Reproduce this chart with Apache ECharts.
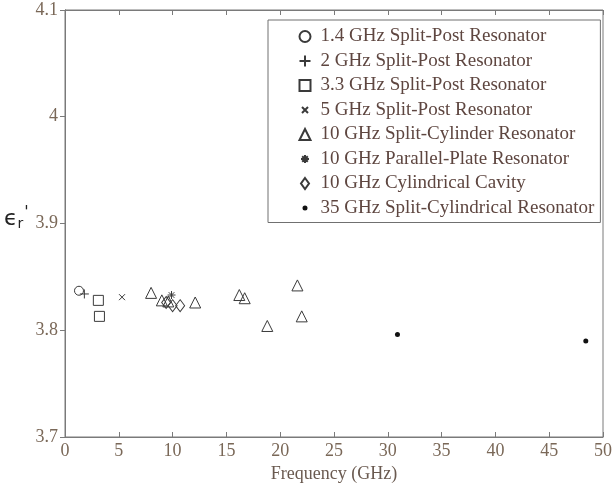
<!DOCTYPE html>
<html><head><meta charset="utf-8">
<script src="https://cdn.jsdelivr.net/npm/echarts@6/dist/echarts.min.js"></script>
<style>html,body{margin:0;padding:0;background:#fff}#c{width:615px;height:488px}</style>
</head><body><div id="c"></div>
<script>
const seriesNames = [
  '1.4 GHz Split-Post Resonator',
  '2 GHz Split-Post Resonator',
  '3.3 GHz Split-Post Resonator',
  '5 GHz Split-Post Resonator',
  '10 GHz Split-Cylinder Resonator',
  '10 GHz Parallel-Plate Resonator',
  '10 GHz Cylindrical Cavity',
  '35 GHz Split-Cylindrical Resonator'
];
const splitPost14 = [[1.3, 3.837]];
const splitPost2 = [[1.8, 3.834]];
const splitPost33 = [[3.1, 3.828], [3.2, 3.813]];
const splitPost5 = [[5.3, 3.831]];
const splitCylinder10 = [[8.0, 3.835], [9.0, 3.828], [9.6, 3.827], [12.1, 3.826], [16.2, 3.833], [16.7, 3.830], [18.8, 3.804], [21.6, 3.842], [22.0, 3.813]];
const parallelPlate10 = [[9.9, 3.833]];
const cylCavity10 = [[9.4, 3.826], [10.0, 3.823], [10.7, 3.823]];
const splitCyl35 = [[30.9, 3.796], [48.4, 3.790]];
const xTicks = [0, 5, 10, 15, 20, 25, 30, 35, 40, 45, 50];
const yTicks = [3.7, 3.8, 3.9, 4, 4.1];

const dataList = [splitPost14, splitPost2, splitPost33, splitPost5, splitCylinder10, parallelPlate10, cylCavity10, splitCyl35];
const mk = '#3a3a3a';
const symbols = [
  {symbol: 'circle', size: 9, fill: '#fff', leg: 'circle'},
  {symbol: 'path://M0,-1L0,1M-1,0L1,0', size: 9, fill: 'none', leg: 'path://M0,-1L0,1M-1,0L1,0'},
  {symbol: 'rect', size: 10, fill: '#fff', leg: 'rect'},
  {symbol: 'path://M-1,-1L1,1M-1,1L1,-1', size: 6, fill: 'none', leg: 'path://M-3,-3L3,3M-3,3L3,-3M-5.5,-5.5L-5.5,-5.5M5.5,5.5L5.5,5.5'},
  {symbol: 'triangle', size: 11, fill: 'none', leg: 'triangle'},
  {symbol: 'path://M0,-1L0,1M-1,0L1,0M-0.7,-0.7L0.7,0.7M-0.7,0.7L0.7,-0.7', size: 8, fill: 'none', leg: 'path://M0,-4L0,4M-4,0L4,0M-2.8,-2.8L2.8,2.8M-2.8,2.8L2.8,-2.8M-5.5,-5.5L-5.5,-5.5M5.5,5.5L5.5,5.5'},
  {symbol: 'diamond', size: [9, 12], fill: 'none', leg: 'path://M0,-5.5L4,0L0,5.5L-4,0Z M-5.5,-5.5L-5.5,-5.5M5.5,5.5L5.5,5.5'},
  {symbol: 'circle', size: 5, fill: '#111', leg: 'path://M0,-2.5A2.5,2.5,0,1,1,0,2.5A2.5,2.5,0,1,1,0,-2.5Z M-5.5,-5.5L-5.4,-5.5M5.5,5.5L5.4,5.5'}
];
const serif = 'Liberation Serif, Times New Roman, serif';
const chart = echarts.init(document.getElementById('c'));
const axisLine = {show: true, lineStyle: {color: '#7a7a7a', width: 1}};
chart.setOption({
  animation: false,
  backgroundColor: '#fff',
  grid: {left: 65, right: 12, top: 10, bottom: 51, show: true, borderColor: '#7a7a7a', borderWidth: 1, containLabel: false, outerBoundsMode: 'none'},
  xAxis: [{
    type: 'value', min: 0, max: 50, interval: 5,
    axisLine: axisLine,
    axisTick: {show: true, inside: true, length: 5, lineStyle: {color: '#7a7a7a'}},
    axisLabel: {color: '#7a6858', fontFamily: serif, fontSize: 18, margin: 5, formatter: v => xTicks.includes(v) ? String(v) : ''},
    splitLine: {show: false},
    name: 'Frequency (GHz)', nameLocation: 'middle', nameGap: 27,
    nameTextStyle: {color: '#6a5a50', fontFamily: serif, fontSize: 18}
  }, {
    type: 'value', min: 0, max: 50, interval: 5, position: 'top',
    axisLine: axisLine,
    axisTick: {show: true, inside: true, length: 5, lineStyle: {color: '#7a7a7a'}},
    axisLabel: {show: false}, splitLine: {show: false}
  }],
  yAxis: [{
    type: 'value', min: 3.7, max: 4.1, interval: 0.1,
    axisLine: axisLine,
    axisTick: {show: true, inside: false, length: 4, lineStyle: {color: '#7a7a7a'}},
    axisLabel: {color: '#7a6858', fontFamily: serif, fontSize: 18, margin: 7,
      formatter: v => { const t = yTicks.find(y => Math.abs(y - v) < 1e-6); return t === undefined ? '' : String(t); }},
    splitLine: {show: false}
  }, {
    type: 'value', min: 3.7, max: 4.1, interval: 0.1, position: 'right',
    axisLine: axisLine,
    axisTick: {show: true, inside: true, length: 5, lineStyle: {color: '#7a7a7a'}},
    axisLabel: {show: false}, splitLine: {show: false}
  }],
  legend: {
    orient: 'vertical', left: 268, top: 20,
    padding: [7, 6, 5, 29],
    itemWidth: 11, itemHeight: 11, itemGap: 5.5,
    borderColor: '#707070', borderWidth: 1, backgroundColor: '#fff',
    textStyle: {color: '#5e4640', fontFamily: serif, fontSize: 19, padding: [0, 0, 0, 5]},
    data: seriesNames.map((n, i) => ({name: n, icon: symbols[i].leg}))
  },
  graphic: [{
    type: 'text', left: 4, top: 205,
    style: {
      rich: {
        e: {fontFamily: 'DejaVu Sans, sans-serif', fontSize: 22, fill: '#222'},
        r: {fontFamily: 'DejaVu Sans, sans-serif', fontSize: 14, fill: '#222', padding: [10, 0, 0, 0]},
        p: {fontFamily: 'DejaVu Sans, sans-serif', fontSize: 16, fill: '#222', padding: [0, 0, 12, 1]}
      },
      text: '{e|ϵ}{r|r}{p|\'}'
    }
  }],
  series: dataList.map((d, i) => ({
    name: seriesNames[i],
    type: 'scatter',
    data: d,
    symbol: symbols[i].symbol,
    symbolSize: symbols[i].size,
    itemStyle: {color: symbols[i].fill, borderColor: mk, borderWidth: i === 7 ? 0 : 1, opacity: 1},
    emphasis: {disabled: true}
  }))
});
</script></body></html>
